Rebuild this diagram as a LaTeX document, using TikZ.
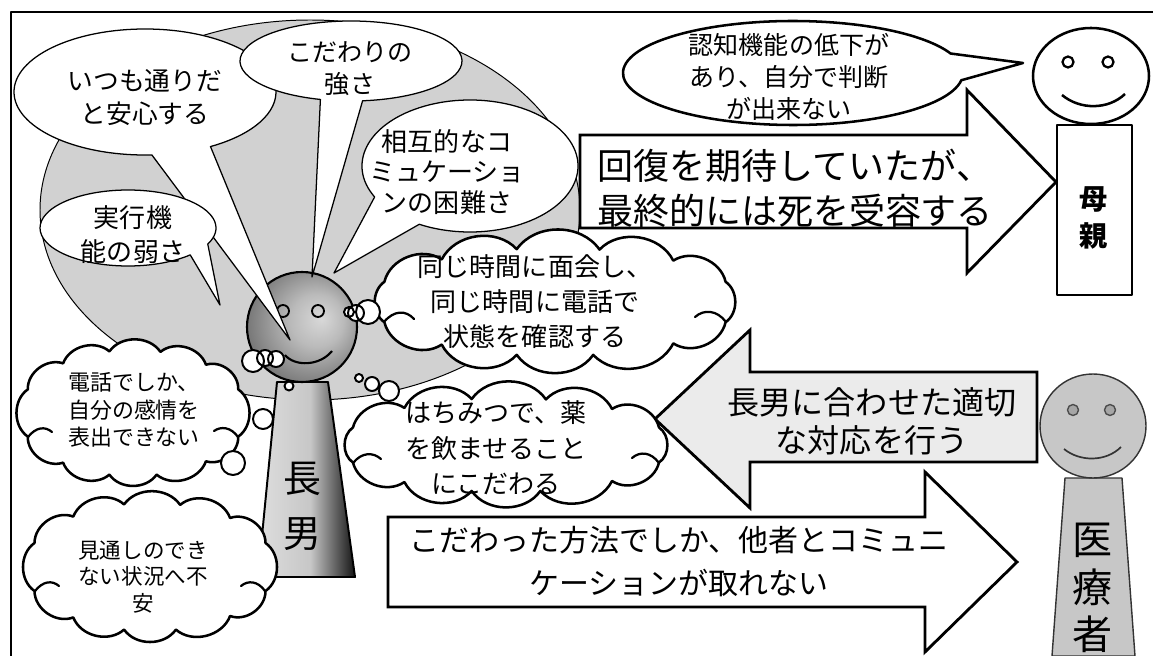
\documentclass[tikz,border=0pt]{standalone}
\usepackage{fontspec}
\newfontfamily\jp{Noto Sans CJK JP}
\usetikzlibrary{calc}

% shadings for the eldest son's figure
\pgfdeclarehorizontalshading{bodyshade}{100bp}{color(0bp)=(black!13); color(25bp)=(black!13); color(52bp)=(black!22); color(75bp)=(black!92); color(100bp)=(black!92)}
\pgfdeclareradialshading{headshade}{\pgfpoint{9bp}{4bp}}{color(0bp)=(black!15); color(12bp)=(black!27); color(30bp)=(black!55); color(50bp)=(black!62)}

% a thought cloud: puffs bulging out between points on an ellipse (cx, cy, a, b)
\newcommand\thoughtcloud[4]{%
  \draw[cloudline] ($(#1,#2)+(-22:#3 and #4)$)
    \foreach \t in {22,50,78,102,128,158,202,232,258,284,310,338} {to[bend left=55] ($(#1,#2)+(\t:#3 and #4)$)} -- cycle;}

\begin{document}
\begin{tikzpicture}[x=0.025cm,y=-0.025cm,line join=round,
  callout/.style={draw=black,line width=0.9pt,fill=white},
  cloudline/.style={draw,line width=1.8pt,fill=white},
  fold/.style={line width=1.6pt,line cap=round},
  puff/.style={draw,line width=1.4pt,fill=white},
  blockarrow/.style={draw,line width=2pt,line join=miter},
  txt/.style={align=center,inner sep=0pt}]
\useasboundingbox (0,0) rectangle (1153,656);
\clip (0,0) rectangle (1153,656);
\fill[white] (0,0) rectangle (1153,656);

% frame
\draw[line width=1.1pt] (11,700) -- (11,12) -- (1200,12);

% grey halo of the eldest son's traits
\draw[line width=0.7pt,fill=black!18] (310,210) ellipse[x radius=270,y radius=190];

% eldest son
\shadedraw[shading=bodyshade,line width=1.4pt] (277,382) -- (328,382) -- (355,577) -- (258,577) -- cycle;
\shadedraw[shading=headshade,line width=1.5pt] (302,327) circle[radius=55];
\draw[line width=1.3pt] (283,311) circle[radius=6] (318,311) circle[radius=6];
\draw[line width=1.5pt] (285,355) .. controls (295,367) and (320,366) .. (332,351);
\node[txt,font=\jp\fontsize{27pt}{39pt}\selectfont] (sonlabel) at (302,506) {長\\男};

% speech callouts about the traits
\draw[callout] ($(145,92)+(87:131 and 63)$) arc[start angle=87,end angle=420,x radius=131,y radius=63] -- (290,340) -- cycle;
\draw[callout] ($(351,61)+(106:111 and 40)$) arc[start angle=106,end angle=444,x radius=111,y radius=40] -- (312,277) -- cycle;
\draw[callout] ($(470,166)+(152:108 and 66)$) arc[start angle=152,end angle=478,x radius=108,y radius=66] -- (334,273) -- cycle;
\draw[callout] ($(128,228)+(45:88 and 38)$) arc[start angle=45,end angle=385,x radius=88,y radius=38] -- (220,305) -- cycle;

\node[txt,font=\jp\fontsize{18.3pt}{23.5pt}\selectfont] (usual) at (145,98) {いつも通りだ\\と安心する};
\node[txt,font=\jp\fontsize{17.8pt}{22.8pt}\selectfont] (fixation) at (350,69) {こだわりの\\強さ};
\node[txt,font=\jp\fontsize{18.5pt}{21.5pt}\selectfont] (mutual) at (447,172) {相互的なコ\\ミュケーショ\\ンの困難さ};
\node[txt,font=\jp\fontsize{18.5pt}{24.2pt}\selectfont] (executive) at (133,235) {実行機\\能の弱さ};

% block arrows
\draw[blockarrow,fill=white] (580,135) -- (967,135) -- (967,90) -- (1056,182) -- (967,273) -- (967,228) -- (580,228) -- cycle;
\draw[blockarrow,fill=black!8] (1037,372) -- (750,372) -- (750,330) -- (655,419) -- (750,508) -- (750,462) -- (1037,462) -- cycle;
\draw[blockarrow,fill=white] (388,517) -- (925,517) -- (925,472) -- (1017,562) -- (925,652) -- (925,607) -- (388,607) -- cycle;

\node[txt,font=\jp\fontsize{25.6pt}{32pt}\selectfont] (recover) at (795,188) {回復を期待していたが、\\最終的には死を受容する};
\node[txt,font=\jp\fontsize{22.8pt}{27pt}\selectfont] (adapt) at (872,421) {長男に合わせた適切\\な対応を行う};
\node[txt,font=\jp\fontsize{21.3pt}{30.6pt}\selectfont] (onlyway) at (679,562) {こだわった方法でしか、他者とコミュニ\\ケーションが取れない};

% thought clouds and their folds
\thoughtcloud{555}{302}{184}{54}
\thoughtcloud{506}{445}{165}{47}
\thoughtcloud{133}{413}{113.5}{63}
\thoughtcloud{150}{567}{124.6}{64}
\draw[fold] (384,322) .. controls (394,310) and (406,310) .. (414,319);
\draw[fold] (726,322) .. controls (717,310) and (704,309) .. (695,317);
\draw[fold] (353,463) .. controls (362,452) and (373,452) .. (381,459);
\draw[fold] (659,463) .. controls (651,452) and (640,451) .. (632,458);
\draw[fold] (28,437) .. controls (36,427) and (45,426) .. (52,432);
\draw[fold] (238,437) .. controls (231,427) and (221,426) .. (214,431);
\draw[fold] (35,591) .. controls (43,581) and (52,580) .. (59,586);
\draw[fold] (265,591) .. controls (258,581) and (248,580) .. (241,586);

\node[txt,font=\jp\fontsize{18.5pt}{24.9pt}\selectfont] (sametime) at (535,302) {同じ時間に面会し、\\同じ時間に電話で\\状態を確認する};
\node[txt,font=\jp\fontsize{18.5pt}{25.2pt}\selectfont] (honey) at (496,448) {はちみつで、薬\\を飲ませること\\にこだわる};
\node[txt,font=\jp\fontsize{15.6pt}{19.6pt}\selectfont] (phone) at (134,410) {電話でしか、\\自分の感情を\\表出できない};
\node[txt,font=\jp\fontsize{15.3pt}{18.9pt}\selectfont] (outlook) at (143,577) {見通しのでき\\ない状況へ不\\安};

% trailing thought bubbles
\draw[puff] (349,312) circle[radius=5] (356,313) circle[radius=8] (368,312) circle[radius=12];
\draw[puff] (359,378) circle[radius=4] (372,384) circle[radius=7] (389,391) circle[radius=10];
\draw[puff] (233,463) circle[radius=12] (263,419) circle[radius=10] (253,361) circle[radius=11] (265,358) circle[radius=8] (276,359) circle[radius=8] (289,386) circle[radius=4.5];

% mother
\draw[line width=1.8pt,fill=white] ($(793,73)+(8:170 and 52)$) arc[start angle=8,end angle=338,x radius=170,y radius=52] -- (1023,63) -- cycle;
\node[txt,font=\jp\fontsize{17.8pt}{22.8pt}\selectfont] (cognition) at (789,77) {認知機能の低下が\\あり、自分で判断\\が出来ない};
\draw[line width=1.8pt,fill=white] (1091,76) ellipse[x radius=58,y radius=48];
\draw[line width=1.6pt] (1068,62) circle[radius=5.5] (1108,62) circle[radius=5.5];
\draw[line width=1.8pt] (1062,95) .. controls (1080,110) and (1108,110) .. (1125,94);
\draw[line width=1.8pt,fill=white] (1057,125) rectangle (1132,295);
\node[txt,font=\jp\bfseries\fontsize{20pt}{26.3pt}\selectfont] (motherlabel) at (1094,218) {母\\親};

% medical staff
\draw[line width=1pt,draw=black!80,fill=black!22] (1065,478) -- (1122,478) -- (1135,656) -- (1052,656) -- cycle;
\draw[line width=1pt,draw=black!80,fill=black!22] (1093,426) ellipse[x radius=53,y radius=52];
\draw[line width=1pt,draw=black!70,fill=black!35] (1073,410) circle[radius=5.5] (1110,410) circle[radius=5.5];
\draw[line width=1.2pt,draw=black!80] (1064,449) .. controls (1080,462) and (1106,462) .. (1121,447);
\node[txt,font=\jp\fontsize{28.5pt}{33.8pt}\selectfont] (stafflabel) at (1093,588) {医\\療\\者};
\end{tikzpicture}
\end{document}
